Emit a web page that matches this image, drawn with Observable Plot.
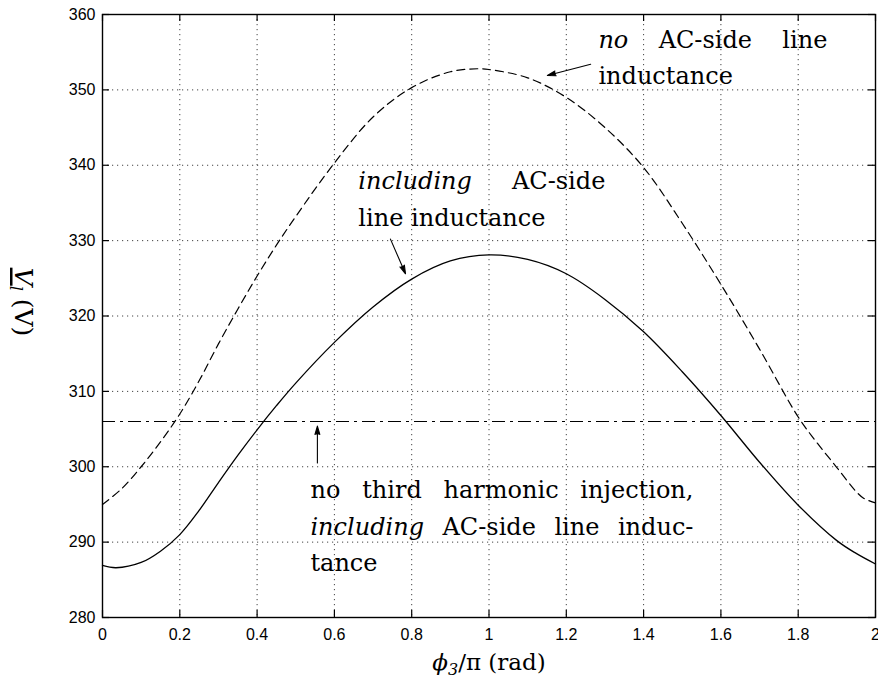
<!DOCTYPE html>
<html><head><meta charset="utf-8">
<script src="https://cdn.jsdelivr.net/npm/d3@7"></script>
<script src="https://cdn.jsdelivr.net/npm/@observablehq/plot@0.6"></script>
<style>html,body{margin:0;padding:0;background:#fff}#chart svg{display:block}</style>
</head><body><div id="chart"></div>
<script>
// ---- data ----
const xTicks = [0, 0.2, 0.4, 0.6, 0.8, 1, 1.2, 1.4, 1.6, 1.8, 2];
const yTicks = [280, 290, 300, 310, 320, 330, 340, 350, 360];

// no AC-side line inductance (dashed)
const dashedPhase = [0, 0.05, 0.1, 0.15, 0.2, 0.25, 0.3, 0.35, 0.4, 0.45, 0.5, 0.6, 0.7, 0.8, 0.9, 0.97, 1.0, 1.1, 1.2, 1.3, 1.4, 1.5, 1.6, 1.7, 1.8, 1.85, 1.9, 1.95, 1.97, 2.0];
const dashedV     = [295.0, 297.1, 300.0, 303.3, 307.0, 311.4, 316.3, 320.9, 325.3, 329.4, 333.2, 340.3, 346.4, 350.3, 352.4, 352.8, 352.7, 351.6, 349.0, 345.0, 339.7, 332.3, 324.2, 315.6, 306.6, 303.1, 299.9, 296.7, 295.8, 295.2];

// including AC-side line inductance (solid)
const solidPhase = [0, 0.035, 0.1, 0.15, 0.2, 0.25, 0.3, 0.35, 0.4, 0.45, 0.5, 0.6, 0.7, 0.8, 0.9, 1.0, 1.1, 1.2, 1.3, 1.4, 1.5, 1.6, 1.7, 1.8, 1.9, 1.95, 2.0];
const solidV     = [286.9, 286.6, 287.3, 288.8, 291.0, 294.2, 297.9, 301.5, 304.9, 308.1, 311.1, 316.5, 321.2, 324.9, 327.3, 328.1, 327.5, 325.6, 322.2, 317.9, 312.6, 306.8, 300.6, 294.9, 290.2, 288.5, 287.1];

// no third harmonic injection (dash-dot)
const noInjectionV = [306];

// annotation texts (*...* = italic)
const noteA = ["*no* AC-side line", "inductance"];
const noteB = ["*including* AC-side", "line inductance"];
const noteC = ["no third harmonic injection,", "*including* AC-side line induc-", "tance"];
const xLabel = "*ϕ*{3}/π (rad)";
const yLabel = "[V]{l} (V)";

// ---- chart ----
const serif = "'DejaVu Serif', serif";
const noteStyle = {textAnchor: "start", lineAnchor: "bottom", fontFamily: serif, fontSize: 24, fill: "#000"};

const chart = Plot.plot({
  width: 878,
  height: 690,
  marginLeft: 102,
  marginRight: 3,
  marginTop: 14,
  marginBottom: 73,
  x: {domain: [0, 2]},
  y: {domain: [280, 360]},
  style: {fontFamily: "'Liberation Sans', Arial, sans-serif", fontSize: "16px", color: "#000", background: "#fff"},
  marks: [
    Plot.ruleX(xTicks, {x: d => d, stroke: "#444", strokeWidth: 1, strokeDasharray: "1.2,3.8"}),
    Plot.ruleY(yTicks, {y: d => d, stroke: "#444", strokeWidth: 1, strokeDasharray: "1.2,3.8"}),
    Plot.tickX(xTicks, {x: d => d, insetTop: 596, stroke: "#000", strokeWidth: 1.2}),
    Plot.tickX(xTicks, {x: d => d, insetBottom: 596, stroke: "#000", strokeWidth: 1.2}),
    Plot.tickY(yTicks, {y: d => d, insetRight: 766, stroke: "#000", strokeWidth: 1.2}),
    Plot.tickY(yTicks, {y: d => d, insetLeft: 766, stroke: "#000", strokeWidth: 1.2}),
    Plot.frame({stroke: "#000", strokeWidth: 1.4}),
    Plot.axisX(xTicks, {tickSize: 0, tickPadding: 11, tickFormat: d => String(d), label: null, fontSize: 16}),
    Plot.axisY(yTicks, {tickSize: 0, tickPadding: 7, label: null, fontSize: 16}),
    Plot.ruleY(noInjectionV, {y: d => d, stroke: "#000", strokeWidth: 1.1, strokeDasharray: "13,5,3,5"}),
    Plot.line(dashedPhase, {x: d => d, y: (d, i) => dashedV[i], curve: "catmull-rom", stroke: "#000", strokeWidth: 1.2, strokeDasharray: "8,5"}),
    Plot.line(solidPhase, {x: d => d, y: (d, i) => solidV[i], curve: "catmull-rom", stroke: "#000", strokeWidth: 1.3}),
    Plot.arrow([0], {x1: 1.263, y1: 353.4, x2: 1.151, y2: 351.9, stroke: "#000", fill: "#000", strokeWidth: 1.1, headLength: 12, headAngle: 32}),
    Plot.arrow([0], {x1: 0.745, y1: 330.2, x2: 0.784, y2: 325.6, stroke: "#000", fill: "#000", strokeWidth: 1.1, headLength: 12, headAngle: 32}),
    Plot.arrow([0], {x1: 0.556, y1: 300.5, x2: 0.556, y2: 305.4, stroke: "#000", fill: "#000", strokeWidth: 1.1, headLength: 12, headAngle: 32}),
    Plot.text(noteA, {...noteStyle, x: 1.283, y: (d, i) => 355.6 - i * 4.77, text: d => d}),
    Plot.text(noteB, {...noteStyle, x: 0.662, y: (d, i) => 336.8 - i * 4.9, text: d => d}),
    Plot.text(noteC, {...noteStyle, x: 0.538, y: (d, i) => 295.8 - i * 4.8, text: d => d}),
    Plot.text([xLabel], {frameAnchor: "bottom", dy: 52, lineAnchor: "bottom", text: d => d, fontFamily: serif, fontSize: 23}),
    Plot.text([yLabel], {frameAnchor: "left", dx: -80, dy: -14, rotate: 90, textAnchor: "middle", text: d => d, fontFamily: serif, fontSize: 25})
  ]
});
document.getElementById("chart").appendChild(chart);

// ---- rich text post-processing (italics, subscripts, underline, justification) ----
const NS = "http://www.w3.org/2000/svg";
const richSet = new Set([...noteA, ...noteB, ...noteC, xLabel, yLabel]);
const justifyWidth = {
  "*no* AC-side line": 229,
  "*including* AC-side": 247,
  "no third harmonic injection,": 383,
  "*including* AC-side line induc-": 383
};
chart.querySelectorAll("text").forEach(t => {
  const src = t.textContent;
  if (!richSet.has(src)) return;
  while (t.firstChild) t.removeChild(t.firstChild);
  const re = /\*([^*]+)\*|\{([^}]+)\}|\[([^\]]+)\]|([^*{[]+)/g;
  let m, sub = false;
  while ((m = re.exec(src))) {
    const s = document.createElementNS(NS, "tspan");
    if (m[1]) { s.textContent = m[1]; s.setAttribute("font-style", "italic"); }
    else if (m[2]) { s.textContent = m[2]; s.setAttribute("font-size", "16"); s.setAttribute("font-style", "italic"); s.setAttribute("dy", "5"); sub = true; }
    else if (m[3]) { s.textContent = m[3]; s.setAttribute("font-style", "italic"); s.setAttribute("text-decoration", "underline"); }
    else { s.textContent = m[4]; }
    if (!m[2] && sub) { s.setAttribute("dy", "-5"); sub = false; }
    t.appendChild(s);
  }
  const target = justifyWidth[src];
  if (target) {
    const natural = t.getComputedTextLength();
    const spaces = (src.match(/ /g) || []).length;
    if (spaces > 0 && natural > 0) t.setAttribute("word-spacing", ((target - natural) / spaces).toFixed(2));
  }
});
</script>
</body></html>
